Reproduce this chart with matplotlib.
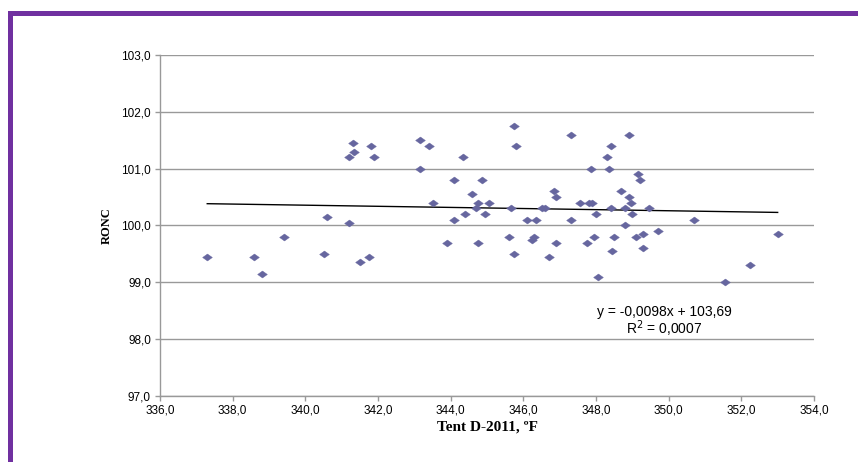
import numpy as np
import matplotlib
matplotlib.use('Agg')
import matplotlib.pyplot as plt
from matplotlib.path import Path
from matplotlib.ticker import FuncFormatter

# Tent D-2011 (ºF) vs RONC
tent = [337.3, 338.6, 338.8, 339.4, 340.5, 340.6, 341.2, 341.5, 341.75, 341.3,
        341.35, 341.2, 341.8, 341.9, 343.15, 343.15, 343.4, 343.5, 344.35, 344.1,
        343.9, 344.1, 344.4, 344.6, 344.75, 344.7, 344.85, 345.05, 344.95, 344.75,
        345.75, 345.8, 345.65, 345.6, 345.75, 346.1, 346.35, 346.3, 346.25, 346.5,
        346.6, 346.85, 346.9, 346.9, 346.7, 347.3, 347.3, 347.55, 347.8, 347.9,
        347.75, 347.85, 348.0, 347.95, 348.05, 348.4, 348.3, 348.35, 348.4, 348.5,
        348.45, 348.9, 348.7, 348.9, 348.95, 348.8, 349.0, 348.8, 349.15, 349.2,
        349.45, 349.1, 349.3, 349.3, 349.7, 350.7, 351.55, 352.25, 353.0]
ronc = [99.45, 99.45, 99.15, 99.80, 99.50, 100.15, 100.05, 99.35, 99.45, 101.45,
        101.30, 101.20, 101.40, 101.20, 101.50, 101.00, 101.40, 100.40, 101.20, 100.80,
        99.70, 100.10, 100.20, 100.55, 100.40, 100.30, 100.80, 100.40, 100.20, 99.70,
        101.75, 101.40, 100.30, 99.80, 99.50, 100.10, 100.10, 99.80, 99.75, 100.30,
        100.30, 100.60, 100.50, 99.70, 99.45, 101.60, 100.10, 100.40, 100.40, 100.40,
        99.70, 101.00, 100.20, 99.80, 99.10, 101.40, 101.20, 101.00, 100.30, 99.80,
        99.55, 101.60, 100.60, 100.50, 100.40, 100.30, 100.20, 100.00, 100.90, 100.80,
        100.30, 99.80, 99.85, 99.60, 99.90, 100.10, 99.00, 99.30, 99.85]

# linear trend as given in the label
slope = -0.0098
intercept = 103.69
r_squared = 0.0007

xticks = np.arange(336.0, 354.1, 2.0)
yticks = np.arange(97.0, 103.1, 1.0)


def comma(v, pos=None):
    return f'{v:.1f}'.replace('.', ',')


fig = plt.figure(figsize=(8.58, 4.62), dpi=100)
fig.patch.set_facecolor('white')

# purple frame along the top and left edges
fig.add_artist(plt.Rectangle((8 / 858, 0), 5 / 858, 1 - 11 / 462, transform=fig.transFigure,
                             color='#7030a0', lw=0))
fig.add_artist(plt.Rectangle((8 / 858, 1 - 16 / 462), 1, 5 / 462, transform=fig.transFigure,
                             color='#7030a0', lw=0))

ax = fig.add_axes([160 / 858, 66.3 / 462, 654 / 858, 340.4 / 462])

ax.set_xlim(336, 354)
ax.set_ylim(97, 103)
ax.set_xticks(xticks)
ax.set_yticks(yticks)
ax.xaxis.set_major_formatter(FuncFormatter(comma))
ax.yaxis.set_major_formatter(FuncFormatter(comma))

ax.grid(axis='y', color='#999999', lw=1.0)
ax.set_axisbelow(True)
for side in ('top', 'right'):
    ax.spines[side].set_visible(False)
for side in ('left', 'bottom'):
    ax.spines[side].set_color('#999999')
    ax.spines[side].set_linewidth(1.0)

ax.tick_params(axis='both', direction='out', length=3.5, width=1.0, color='#999999',
               labelsize=8.5, labelcolor='black')
ax.tick_params(axis='x', pad=3)
ax.tick_params(axis='y', pad=3)
for lbl in ax.get_xticklabels() + ax.get_yticklabels():
    lbl.set_family('Liberation Sans')

# flattened diamond marker
diamond = Path([(-1, 0), (0, 0.72), (1, 0), (0, -0.72), (-1, 0)],
               [Path.MOVETO, Path.LINETO, Path.LINETO, Path.LINETO, Path.CLOSEPOLY])
ax.plot(tent, ronc, linestyle='none', marker=diamond, markersize=7,
        markerfacecolor='#66669f', markeredgecolor='#66669f', markeredgewidth=0.3,
        zorder=3)

xfit = np.array([min(tent), max(tent)])
ax.plot(xfit, slope * xfit + intercept, color='black', lw=1.0, zorder=2)

eq = f'y = {slope:.4f}x + {intercept:.2f}'.replace('.', ',')
ax.text(0.7706, 0.246, eq, transform=ax.transAxes, ha='center', va='center',
        fontsize=10, family='Liberation Sans')
r2 = f'R$^2$ = {r_squared:.4f}'.replace('.', ',')
ax.text(0.7706, 0.196, r2, transform=ax.transAxes, ha='center', va='center',
        fontsize=10, family='Liberation Sans')

ax.set_xlabel('Tent D-2011, ºF', family='Liberation Serif', fontweight='bold',
              fontsize=11, labelpad=3)
ax.set_ylabel('RONC', family='Liberation Serif', fontweight='bold', fontsize=9,
              labelpad=6)

fig.savefig('out.png', dpi=100, facecolor='white')
